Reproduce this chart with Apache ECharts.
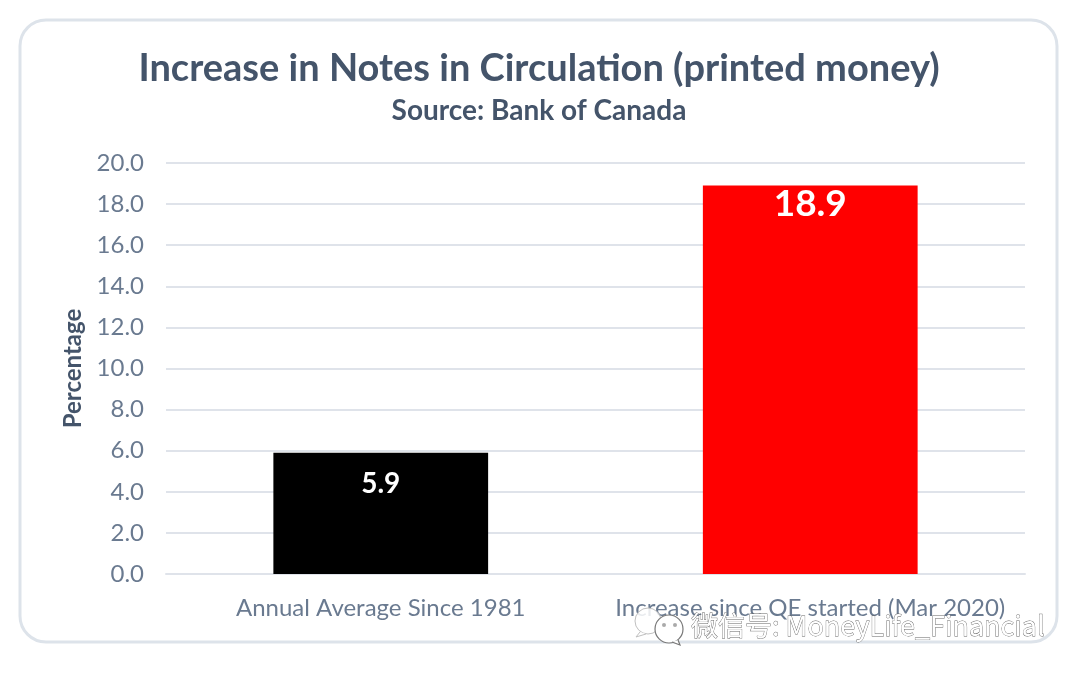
<!DOCTYPE html>
<html lang="en">
<head>
<meta charset="utf-8">
<title>Increase in Notes in Circulation</title>
<script src="https://cdn.jsdelivr.net/npm/echarts@6/dist/echarts.min.js"></script>
<style>
    html, body, #chart { width: 1080px; height: 676px; margin: 0; padding: 0; overflow: hidden; background: #fff; }
</style>
</head>
<body>
<div id="chart"></div>
<script>
    var categories = ['Annual Average Since 1981', 'Increase since QE started (Mar 2020)'];
    var values = [5.9, 18.9];
    var barColors = ['#000000', '#ff0000'];
    var labelSizes = [28, 37];
    var labelDistances = [17, 0];

    var font = 'Lato, "Noto Sans", sans-serif';
    var textColor = '#44546a';
    var tickColor = '#6a7a90';

    var myChart = echarts.init(document.getElementById('chart'));

    myChart.setOption({
        animation: false,
        backgroundColor: '#fff',
        title: [
            {
                text: 'Increase in Notes in Circulation (printed money)',
                left: 534, top: 45, textAlign: 'center',
                textStyle: { fontFamily: font, fontSize: 38, fontWeight: 'bold', color: textColor }
            },
            {
                text: 'Source: Bank of Canada',
                left: 534, top: 92, textAlign: 'center',
                textStyle: { fontFamily: font, fontSize: 28, fontWeight: 'bold', color: textColor }
            }
        ],
        grid: { left: 166, right: 55, top: 163, bottom: 102 },
        xAxis: {
            type: 'category',
            data: categories,
            axisTick: { show: false },
            axisLine: { lineStyle: { color: '#dfe3ea', width: 2 } },
            axisLabel: { fontFamily: font, fontSize: 24, color: tickColor, margin: 22, interval: 0 }
        },
        yAxis: {
            type: 'value',
            min: 0, max: 20, interval: 2,
            name: 'Percentage',
            nameLocation: 'middle',
            nameGap: 80,
            nameTextStyle: { fontFamily: font, fontSize: 24, fontWeight: 'bold', color: textColor },
            axisLine: { show: false },
            axisTick: { show: false },
            splitLine: { lineStyle: { color: '#dfe3ea', width: 2 } },
            axisLabel: {
                fontFamily: font, fontSize: 24, color: tickColor, margin: 22,
                formatter: function (v) { return v.toFixed(1); }
            }
        },
        series: [{
            type: 'bar',
            barWidth: '50%',
            data: values.map(function (v, i) {
                return {
                    value: v,
                    itemStyle: { color: barColors[i] },
                    label: { fontSize: labelSizes[i], distance: labelDistances[i] }
                };
            }),
            label: {
                show: true,
                position: 'insideTop',
                fontFamily: font,
                fontWeight: 'bold',
                color: '#fff',
                formatter: function (p) { return p.value.toFixed(1); }
            }
        }],
        graphic: [
            // rounded card around the chart
            {
                type: 'rect', z: -1, silent: true,
                shape: { x: 20, y: 20, width: 1037, height: 622, r: 26 },
                style: { fill: 'none', stroke: '#dde3ea', lineWidth: 3 }
            },
            // wechat watermark
            {
                type: 'circle', z: 50, silent: true,
                shape: { cx: 648, cy: 621, r: 13 },
                style: { fill: 'rgba(255,255,255,0.85)', stroke: '#c0c0c0', lineWidth: 1 }
            },
            {
                type: 'polyline', z: 50, silent: true,
                shape: { points: [[640, 632], [636, 637], [646, 634]] },
                style: { fill: '#fff', stroke: '#c0c0c0', lineWidth: 1 }
            },
            {
                type: 'circle', z: 51, silent: true,
                shape: { cx: 669, cy: 629, r: 14 },
                style: { fill: '#fff', stroke: '#777', lineWidth: 1.2 }
            },
            {
                type: 'polyline', z: 51, silent: true,
                shape: { points: [[672, 642], [680, 645], [678, 640]] },
                style: { fill: '#fff', stroke: '#777', lineWidth: 1.2 }
            },
            { type: 'circle', z: 52, silent: true, shape: { cx: 664, cy: 625, r: 2 }, style: { fill: '#aaa' } },
            { type: 'circle', z: 52, silent: true, shape: { cx: 675, cy: 625, r: 2 }, style: { fill: '#aaa' } },
            {
                type: 'text', z: 52, silent: true,
                style: {
                    x: 691, y: 612,
                    text: '微信号: MoneyLife_Financial',
                    fontFamily: '"Noto Sans CJK SC", "Noto Sans", sans-serif',
                    fontSize: 27, fill: '#fff', stroke: '#666', lineWidth: 0.8
                }
            }
        ]
    });
</script>
</body>
</html>
